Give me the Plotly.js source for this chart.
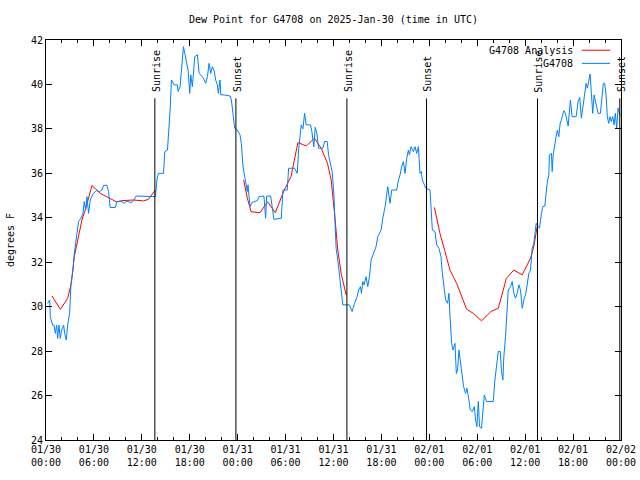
<!DOCTYPE html>
<html>
<head>
<meta charset="utf-8">
<script src="https://cdn.plot.ly/plotly-3.0.1.min.js"></script>
<style>html,body{margin:0;padding:0;background:#fff;}#chart{width:640px;height:480px;}</style>
</head>
<body>
<div id="chart"></div>
<script>
// Hours since 2025-01-30 00:00 UTC
const analysisHours = [0.75,1.79,2.71,3.17,3.54,4.1,4.5,5.04,5.75,6.8,8.04,8.8,9.5,10.96,12.2,12.83,13.67,null,
  24.75,25.2,25.68,26.8,27.75,28.71,29.84,30.68,31.54,32.6,33.63,34.46,35.25,35.71,36.13,36.54,36.96,37.58,null,
  48.63,49.33,49.96,50.58,51.42,52.04,52.67,53.5,54.54,55.71,56.63,57.21,57.63,58.58,59.63,60.67,61.08,61.5];
const analysisDew = [30.48,29.88,30.37,31.05,32.25,33.15,33.9,34.5,35.45,35.1,34.87,34.72,34.77,34.8,34.76,34.83,35.25,null,
  35.7,34.9,34.27,34.23,34.72,34.23,35.25,35.85,37.38,37.24,37.58,37.13,36.45,35.7,34.2,32.55,31.5,30.53,null,
  34.47,33.3,32.48,31.65,31.05,30.45,29.88,29.7,29.36,29.78,29.93,30.68,31.27,31.65,31.43,32.18,32.7,33.6];

const stationHours = [0.21,0.46,0.54,0.83,1.0,1.17,1.33,1.46,1.62,1.79,1.96,2.21,2.33,2.54,2.71,2.96,3.13,3.38,3.54,3.79,
  4.08,4.38,4.63,4.79,4.96,5.13,5.33,5.54,5.88,6.29,6.71,7.0,7.21,7.63,7.83,8.04,8.67,8.88,9.5,9.79,
  10.13,10.63,10.88,11.29,12.21,12.63,13.46,13.71,13.88,14.08,14.71,14.88,15.21,15.42,15.54,15.71,16.04,16.46,16.54,16.79,
  16.96,17.21,17.38,17.63,17.79,18.0,18.13,18.33,18.63,18.96,19.17,19.38,19.71,20.0,20.21,20.42,20.63,20.83,21.04,21.25,
  21.46,21.58,21.79,21.88,22.29,23.04,23.21,23.46,23.63,23.96,24.29,24.46,24.67,24.88,25.08,25.21,25.29,25.42,25.54,25.83,
  26.46,26.67,27.29,27.5,27.63,28.13,28.33,28.54,29.46,29.67,30.21,30.38,31.13,31.46,31.63,31.79,31.96,32.17,32.38,32.58,
  33.13,33.29,33.54,33.71,33.92,34.13,34.67,34.88,35.21,35.38,35.63,35.83,36.04,36.21,36.33,36.54,36.75,36.96,37.08,37.17,
  38.0,38.33,38.63,38.96,39.13,39.38,39.5,39.67,39.83,40.08,40.29,40.5,40.71,41.04,41.33,41.54,41.96,42.17,42.46,42.79,
  43.08,43.29,43.92,44.13,44.33,44.54,44.75,44.96,45.17,45.38,45.5,45.71,46.0,46.21,46.42,46.63,46.83,47.0,47.13,47.38,
  47.54,48.08,48.21,48.38,48.71,48.92,49.21,49.46,49.63,49.88,50.04,50.29,50.46,50.58,50.79,50.96,51.21,51.38,51.54,51.71,
  51.96,52.13,52.29,52.54,52.71,52.96,53.13,53.38,53.63,53.79,53.96,54.13,54.29,54.54,54.71,54.88,55.17,56.0,56.21,56.42,
  56.63,56.88,57.04,57.21,57.33,57.54,57.75,57.88,58.17,58.38,58.58,58.79,59.0,59.21,59.42,59.63,59.83,60.04,60.25,60.46,
  60.67,60.88,61.08,61.21,61.38,61.63,61.79,62.04,62.21,62.46,62.63,62.75,62.96,63.04,63.29,63.38,63.5,63.71,63.88,64.04,
  64.21,64.38,64.54,64.83,65.04,65.38,65.54,65.67,65.88,66.38,66.63,66.83,67.04,67.21,67.46,67.63,67.79,67.96,68.13,68.29,
  68.46,68.63,68.88,69.13,69.42,69.63,69.79,69.96,70.13,70.29,70.46,70.63,70.79,70.96,71.13,71.29,71.46,71.63,71.9];
const stationDew = [30.15,30.3,29.55,29.17,29.17,28.8,29.17,28.57,29.17,28.57,28.95,29.17,28.8,28.5,29.17,29.7,31.05,31.65,32.4,33.0,
  33.83,33.98,34.2,34.73,34.35,34.95,34.2,34.8,35.07,35.22,35.18,35.25,35.46,35.46,35.18,34.46,34.46,34.73,34.73,34.65,
  34.75,34.68,34.73,34.98,34.98,34.95,34.98,34.95,35.7,36.0,36.0,36.98,37.05,37.95,38.85,40.2,39.98,39.98,39.68,39.9,
  40.8,41.7,41.4,40.88,40.65,39.6,40.43,39.9,41.25,41.33,40.5,40.43,40.28,40.05,40.35,40.95,40.5,40.8,40.65,40.2,
  39.98,39.6,40.2,39.53,39.53,39.48,39.3,38.55,38.03,37.95,37.73,37.35,36.3,35.85,35.4,35.18,35.48,34.95,34.5,34.7,
  34.77,34.95,34.98,33.98,34.98,34.98,34.5,33.93,33.98,35.25,35.25,36.23,36.23,36.0,37.05,37.58,38.18,38.0,38.7,38.18,
  38.18,37.88,37.2,38.07,37.8,37.13,37.13,37.43,37.43,36.83,36.45,36.08,35.1,33.15,32.63,32.1,31.5,30.9,30.3,30.08,
  30.08,29.78,30.15,30.45,30.75,30.9,30.6,31.13,30.98,31.35,30.9,31.35,32.1,32.4,32.7,33.15,33.45,33.98,34.5,35.4,
  34.65,35.25,35.25,35.7,35.93,36.3,36.53,36.0,36.68,37.05,36.83,37.2,36.98,37.2,36.9,37.2,36.0,36.08,35.7,35.48,
  35.33,35.25,34.35,33.45,33.38,32.78,32.63,32.25,31.5,30.9,30.3,30.15,30.6,29.63,28.35,28.05,28.35,26.99,27.15,28.05,
  27.3,26.85,26.4,26.1,26.33,25.8,25.35,25.28,25.5,24.9,24.6,25.73,24.6,24.53,25.2,26.03,25.73,25.73,26.7,27.38,
  27.98,27.98,27.08,26.7,27.75,28.65,29.85,30.75,30.9,31.13,30.6,30.38,30.6,30.98,30.75,29.93,30.3,30.53,30.98,31.5,
  31.65,32.63,32.85,33.15,33.75,33.6,33.53,34.2,34.5,34.53,35.1,35.55,35.93,36.83,36.9,36.08,36.83,37.43,37.65,37.95,
  37.65,38.25,38.4,38.82,38.7,38.13,38.78,39.3,38.55,38.55,39.23,39.42,38.48,38.93,39.6,40.05,39.83,40.13,40.47,39.6,
  38.7,39.53,39.15,38.7,38.7,39.6,40.05,40.05,39.53,38.55,38.25,38.55,38.33,38.55,38.18,38.7,38.03,38.93,38.6];

const sunHours = [13.63, 23.78, 37.68, 47.65, 61.54, 71.85];
const sunLabels = ["Sunrise", "Sunset", "Sunrise", "Sunset", "Sunrise", "Sunset"];

const seriesNames = ["G4708 Analysis", "G4708"];
const seriesColors = ["#ff0000", "#0080ff"];

const BASE = Date.UTC(2025, 0, 30);
function toDate(h) {
  if (h === null) return null;
  return new Date(BASE + h * 3600000).toISOString().slice(0, 19).replace('T', ' ');
}

const FONT = "DejaVu Sans Mono, Liberation Mono, monospace";

const traces = [
  {x: analysisHours.map(toDate), y: analysisDew, type: 'scatter', mode: 'lines', name: seriesNames[0],
   line: {color: seriesColors[0], width: 1}, connectgaps: false},
  {x: stationHours.map(toDate), y: stationDew, type: 'scatter', mode: 'lines', name: seriesNames[1],
   line: {color: seriesColors[1], width: 1}}
];

const shapes = [];
const annotations = [];
sunHours.forEach((h, i) => {
  shapes.push({type: 'line', xref: 'x', yref: 'paper', x0: toDate(h), x1: toDate(h), y0: 0, y1: 0.854,
    line: {color: '#000', width: 1}});
  annotations.push({xref: 'x', yref: 'paper', x: toDate(h), y: 0.867, text: sunLabels[i], textangle: -90,
    showarrow: false, xanchor: 'center', yanchor: 'bottom', xshift: 1,
    font: {family: FONT, size: 10, color: '#000'}, borderpad: 0});
});
// manual gnuplot-style key (text left, sample right)
const keyY = [0.9745, 0.9415];
seriesNames.forEach((n, i) => {
  annotations.push({xref: 'paper', yref: 'paper', x: 0.9185, y: keyY[i], text: n, showarrow: false,
    xanchor: 'right', yanchor: 'middle', font: {family: FONT, size: 10, color: '#000'}, borderpad: 0});
  shapes.push({type: 'line', xref: 'paper', yref: 'paper', x0: 0.932, x1: 0.981, y0: keyY[i], y1: keyY[i],
    line: {color: seriesColors[i], width: 1}});
});

const layout = {
  width: 640, height: 480,
  margin: {l: 46, r: 19, t: 40, b: 40, pad: 0},
  paper_bgcolor: '#fff', plot_bgcolor: '#fff',
  font: {family: FONT, size: 10, color: '#000'},
  showlegend: false,
  title: {text: 'Dew Point for G4708 on 2025-Jan-30 (time in UTC)', x: 0.5, xref: 'paper', xanchor: 'center',
    y: 1 - 19 / 480, yref: 'container', yanchor: 'middle', font: {family: FONT, size: 10, color: '#000'}},
  xaxis: {type: 'date', range: [toDate(0), toDate(72)], tick0: toDate(0), dtick: 6 * 3600000,
    tickformat: '%m/%d<br>%H:%M', ticks: 'inside', ticklen: 6, tickcolor: '#000', tickwidth: 1,
    showline: true, linecolor: '#000', linewidth: 1, mirror: 'allticks', showgrid: false, zeroline: false,
    minor: {dtick: 2 * 3600000, ticks: 'inside', ticklen: 3, tickcolor: '#000', showgrid: false},
    tickfont: {family: FONT, size: 10, color: '#000'}},
  yaxis: {range: [24, 42], dtick: 2, tick0: 24, ticks: 'inside', ticklen: 6, tickcolor: '#000', tickwidth: 1,
    showline: true, linecolor: '#000', linewidth: 1, mirror: 'allticks', showgrid: false, zeroline: false,
    tickfont: {family: FONT, size: 10, color: '#000'},
    title: {text: 'degrees F', font: {family: FONT, size: 10, color: '#000'}, standoff: 14}},
  shapes: shapes,
  annotations: annotations
};

Plotly.newPlot('chart', traces, layout, {staticPlot: true, displayModeBar: false});
</script>
</body>
</html>
